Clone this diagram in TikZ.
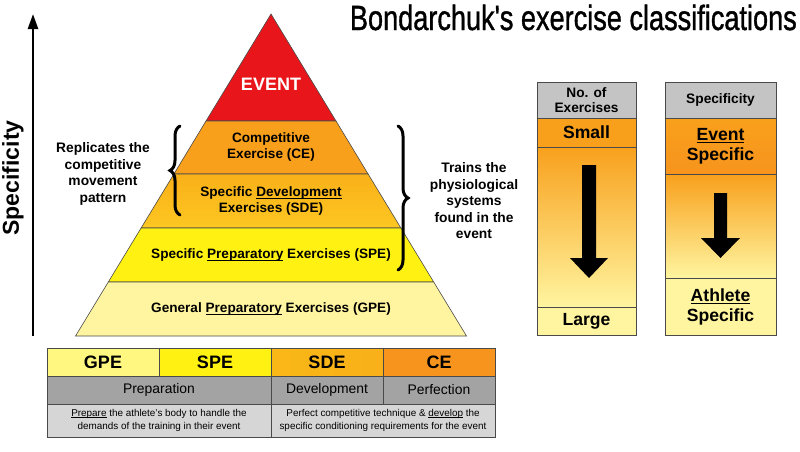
\documentclass[tikz,border=0pt]{standalone}
\usepackage{fontspec}
\setmainfont{Liberation Sans}
\newfontfamily\titlefont[FakeBold=1.2]{Liberation Sans}
\usetikzlibrary{decorations.pathreplacing,arrows.meta}
\newcommand\myul[1]{\setbox0\hbox{#1}\rlap{\rule[-0.17em]{\wd0}{0.075em}}\box0\relax}
\definecolor{evred}{HTML}{E8161B}
\definecolor{ceor}{HTML}{F8A01C}
\definecolor{cedark}{HTML}{F7941D}
\definecolor{sdetop}{HTML}{F9B019}
\definecolor{sdebot}{HTML}{FDC722}
\definecolor{speyel}{HTML}{FFF212}
\definecolor{gpepale}{HTML}{FFF5A0}
\definecolor{hdrgray}{HTML}{C4C4C4}
\definecolor{rowgray}{HTML}{A3A3A3}
\definecolor{lightgray}{HTML}{D6D6D6}
\definecolor{lineg}{HTML}{4A4A4A}
\begin{document}
\begin{tikzpicture}[x=1pt,y=-1pt,
  band/.style={draw=lineg,line width=0.6pt},
  ptext/.style={font=\fontsize{13.6}{16}\selectfont\bfseries,align=center,inner sep=0pt},
  sidetext/.style={font=\fontsize{13.8}{16.5}\selectfont\bfseries,align=center,inner sep=0pt},
  cellbox/.style={draw=lineg,line width=0.8pt},
  celltitle/.style={font=\fontsize{18}{20}\selectfont\bfseries,inner sep=0pt},
  cellmid/.style={font=\fontsize{13.9}{16}\selectfont,inner sep=0pt},
  cellsmall/.style={font=\fontsize{9.9}{13.5}\selectfont,align=center,inner sep=0pt},
  boxhead/.style={font=\fontsize{13.7}{15.5}\selectfont\bfseries,align=center,inner sep=0pt},
  boxtext/.style={font=\fontsize{17.6}{20}\selectfont\bfseries,align=center,inner sep=0pt},
  bracestyle/.style={decorate,decoration={brace,amplitude=10pt,aspect=0.5},line width=3pt,line cap=round},
  blockarrow/.style={fill=black}
]
\useasboundingbox (0,0) rectangle (800,451);
\fill[white] (0,0) rectangle (800,451);

% title
\node[inner sep=0pt,anchor=base east,font=\fontsize{35}{38}\titlefont,xscale=0.775] (title) at (797,30) {Bondarchuk\char"0027 s exercise classifications};

% specificity axis
\coordinate (axbot) at (33,336);
\coordinate (axtop) at (33,14);
\draw[line width=2.5pt,-{Triangle[width=10pt,length=15pt]}] (axbot) -- (axtop);
\node[rotate=90,font=\fontsize{23}{25}\selectfont\bfseries,inner sep=0pt] (spec) at (13,178) {Specificity};

% pyramid
\fill[evred] (271,14) -- (336,121) -- (206,121) -- cycle;
\draw[band] (271,14) -- (336,121) -- (206,121) -- cycle;
\fill[ceor] (206,121) -- (336,121) -- (368.1,174) -- (173.9,174) -- cycle;
\draw[band] (206,121) -- (336,121) -- (368.1,174) -- (173.9,174) -- cycle;
\shade[top color=sdetop,bottom color=sdebot] (173.9,174) -- (368.1,174) -- (400.9,228) -- (141.1,228) -- cycle;
\draw[band] (173.9,174) -- (368.1,174) -- (400.9,228) -- (141.1,228) -- cycle;
\fill[speyel] (141.1,228) -- (400.9,228) -- (433.7,282) -- (108.3,282) -- cycle;
\draw[band] (141.1,228) -- (400.9,228) -- (433.7,282) -- (108.3,282) -- cycle;
\fill[gpepale] (108.3,282) -- (433.7,282) -- (466.5,336) -- (75.5,336) -- cycle;
\draw[band] (108.3,282) -- (433.7,282) -- (466.5,336) -- (75.5,336) -- cycle;

\node[font=\fontsize{18}{20}\selectfont\bfseries,text=white,inner sep=0pt] (event) at (271,84) {EVENT};
\node[ptext] (ce) at (271,147) {Competitive\\Exercise (CE)};
\node[ptext] (sde) at (271,201) {Specific \myul{Development}\\Exercises (SDE)};
\node[ptext] (spe) at (271,255) {Specific \myul{Preparatory} Exercises (SPE)};
\node[ptext] (gpe) at (271,309) {General \myul{Preparatory} Exercises (GPE)};

% braces and side labels
\coordinate (lbtop) at (180,126);
\coordinate (lbbot) at (180,215);
\draw[bracestyle] (lbbot) -- (lbtop);
\node[sidetext] (repl) at (103,174) {Replicates the\\competitive\\movement\\pattern};
\coordinate (rbtop) at (398,126);
\coordinate (rbbot) at (398,270);
\draw[bracestyle] (rbtop) -- (rbbot);
\node[sidetext] (trains) at (474,201) {Trains the\\physiological\\systems\\found in the\\event};

% bottom table
\fill[gpepale!80!yellow] (47,348) rectangle (159,376);
\fill[speyel] (159,348) rectangle (271,376);
\shade[left color=sdetop!90!yellow,right color=sdetop] (271,348) rectangle (383,376);
\fill[cedark] (383,348) rectangle (495,376);
\fill[rowgray] (47,376) rectangle (495,404);
\fill[lightgray] (47,404) rectangle (495,437);
\draw[cellbox] (47,348) rectangle (495,437);
\draw[cellbox] (47,376) -- (495,376);
\draw[cellbox] (47,404) -- (495,404);
\draw[cellbox] (159,348) -- (159,376);
\draw[cellbox] (271,348) -- (271,437);
\draw[cellbox] (383,348) -- (383,404);
\node[celltitle] (tgpe) at (103,362) {GPE};
\node[celltitle] (tspe) at (215,362) {SPE};
\node[celltitle] (tsde) at (327,362) {SDE};
\node[celltitle] (tce) at (439,362) {CE};
\node[cellmid] (tprep) at (159,390) {Preparation};
\node[cellmid] (tdev) at (327,390) {Development};
\node[cellmid] (tperf) at (439,390) {Perfection};
\node[cellsmall] (tdescl) at (159,420.5) {\myul{Prepare} the athlete\char"0027 s body to handle the\\demands of the training in their event};
\node[cellsmall] (tdescr) at (383,420.5) {Perfect competitive technique \& \myul{develop} the\\specific conditioning requirements for the event};

% right box 1
\fill[hdrgray] (537,82) rectangle (636,118);
\fill[ceor] (537,118) rectangle (636,147);
\shade[top color=ceor,bottom color=gpepale] (537,147) rectangle (636,307);
\fill[gpepale] (537,307) rectangle (636,335);
\draw[cellbox] (537,82) rectangle (636,335);
\draw[cellbox] (537,118) -- (636,118);
\draw[cellbox] (537,147) -- (636,147);
\draw[cellbox] (537,307) -- (636,307);
\node[boxhead] (nohead) at (586.5,100) {No. of\\Exercises};
\node[boxtext] (small) at (586.5,132.5) {Small};
\node[boxtext] (large) at (586.5,321) {Large};
\fill[blockarrow] (582,165) -- (596,165) -- (596,258) -- (608,258) -- (589,278) -- (570,258) -- (582,258) -- cycle;

% right box 2
\fill[hdrgray] (665,82) rectangle (776,118);
\shade[top color=ceor,bottom color=cedark] (665,118) rectangle (776,174);
\shade[top color=ceor,bottom color=gpepale] (665,174) rectangle (776,278);
\fill[gpepale] (665,278) rectangle (776,335);
\draw[cellbox] (665,82) rectangle (776,335);
\draw[cellbox] (665,118) -- (776,118);
\draw[cellbox] (665,174) -- (776,174);
\draw[cellbox] (665,278) -- (776,278);
\node[boxhead] (sphead) at (720.5,100) {Specificity};
\node[boxtext] (evspec) at (720.5,146) {\myul{Event}\\Specific};
\node[boxtext] (athspec) at (720.5,306.5) {\myul{Athlete}\\Specific};
\fill[blockarrow] (714,193) -- (727,193) -- (727,238) -- (740,238) -- (720.5,258) -- (701,238) -- (714,238) -- cycle;
\end{tikzpicture}
\end{document}
